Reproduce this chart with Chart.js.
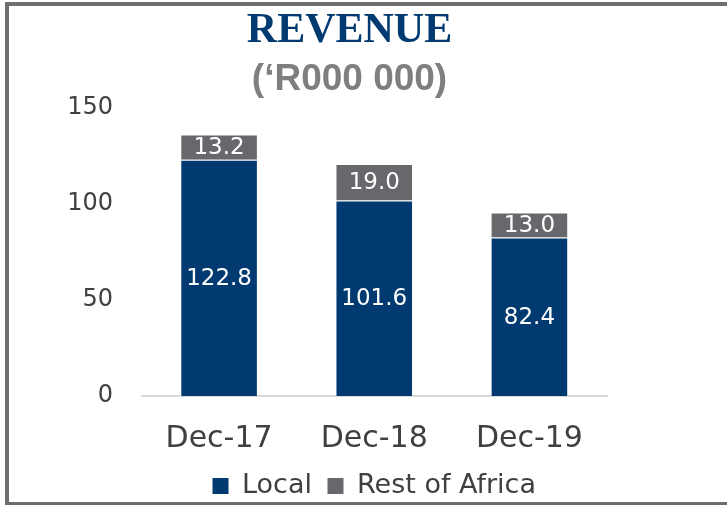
<!DOCTYPE html>
<html>
<head>
<meta charset="utf-8">
<script src="https://cdn.jsdelivr.net/npm/chart.js@4/dist/chart.umd.min.js"></script>
<style>
  html, body { margin: 0; padding: 0; background: #ffffff; overflow: hidden; }
  #wrap { position: relative; width: 727px; height: 505px; overflow: hidden; }
  #frame { position: absolute; left: 5px; top: 2px; width: 800px; height: 504px;
           border: 4px solid #6e6e6e; box-sizing: border-box; pointer-events: none; }
  canvas { position: absolute; left: 0; top: 0; }
</style>
</head>
<body>
<div id="wrap">
  <canvas id="c" width="727" height="560"></canvas>
  <div id="frame"></div>
</div>
<script>
const categories = ["Dec-17", "Dec-18", "Dec-19"];
const localValues = [122.8, 101.6, 82.4];
const restOfAfricaValues = [13.2, 19.0, 13.0];
const seriesNames = ["Local", "Rest of Africa"];
const titleText = "REVENUE";
const subtitleText = "(\u2018R000 000)";
const yTicks = [0, 50, 100, 150];

const NAVY = "#003a70";
const GREY = "#67686b";
const TEXT = "#404040";
const FONT = "'DejaVu Sans', sans-serif";

const barLabels = {
  id: "barLabels",
  afterDatasetsDraw(chart) {
    const ctx = chart.ctx;
    ctx.save();
    ctx.fillStyle = "#ffffff";
    ctx.font = "23px " + FONT;
    ctx.textAlign = "center";
    ctx.textBaseline = "middle";
    chart.data.datasets.forEach((ds, di) => {
      const meta = chart.getDatasetMeta(di);
      meta.data.forEach((el, i) => {
        const v = ds.data[i];
        ctx.fillText(v.toFixed(1), el.x, (el.y + el.base) / 2 + 1);
      });
    });
    ctx.restore();
  }
};

new Chart(document.getElementById("c"), {
  type: "bar",
  data: {
    labels: categories,
    datasets: [
      { label: seriesNames[0], data: localValues, backgroundColor: NAVY,
        borderColor: "rgba(255,255,255,0.35)", borderWidth: 1,
        barPercentage: 0.5, categoryPercentage: 1 },
      { label: seriesNames[1], data: restOfAfricaValues, backgroundColor: GREY,
        borderColor: "rgba(255,255,255,0.35)", borderWidth: 1,
        barPercentage: 0.5, categoryPercentage: 1 }
    ]
  },
  options: {
    responsive: false,
    animation: false,
    devicePixelRatio: 1,
    layout: { padding: { left: 60, right: 88, top: 0, bottom: 50.5 } },
    scales: {
      x: {
        stacked: true,
        afterFit: (scale) => { scale.height = 61; },
        grid: { display: false, drawTicks: false },
        border: { display: true, color: "#d9d9d9", width: 2 },
        ticks: { color: TEXT, padding: 39.5, font: { family: FONT, size: 30, lineHeight: 7 / 30 } }
      },
      y: {
        stacked: true,
        min: 0, max: 150,
        afterBuildTicks: (scale) => { scale.ticks = yTicks.map(v => ({ value: v })); },
        afterFit: (scale) => { scale.width = 81.5; },
        grid: { display: false, drawTicks: false },
        border: { display: false },
        ticks: { color: TEXT, padding: 28.5, font: { family: FONT, size: 24 } }
      },
      yRight: {
        type: "linear",
        position: "right",
        display: true,
        afterFit: (scale) => { scale.width = 32; },
        grid: { display: false, drawTicks: false },
        border: { display: false },
        ticks: { display: false }
      }
    },
    plugins: {
      title: {
        display: true, text: titleText, color: NAVY,
        font: { family: "'Liberation Serif', serif", size: 42, weight: "bold", lineHeight: 1 },
        padding: { top: 10, bottom: 0 }
      },
      subtitle: {
        display: true, text: subtitleText, color: "#7f7f7f",
        font: { family: "'Liberation Sans', sans-serif", size: 37, weight: "bold", lineHeight: 1 },
        padding: { top: 9.5, bottom: 9 }
      },
      legend: {
        position: "bottom",
        fullSize: false,
        labels: {
          color: TEXT, boxWidth: 16, boxHeight: 16, padding: 15.5,
          font: { family: FONT, size: 27 },
          generateLabels: (chart) => Chart.defaults.plugins.legend.labels.generateLabels(chart)
            .map(l => Object.assign(l, { lineWidth: 0, strokeStyle: "rgba(0,0,0,0)" }))
        }
      },
      tooltip: { enabled: false }
    }
  },
  plugins: [barLabels]
});
</script>
</body>
</html>
